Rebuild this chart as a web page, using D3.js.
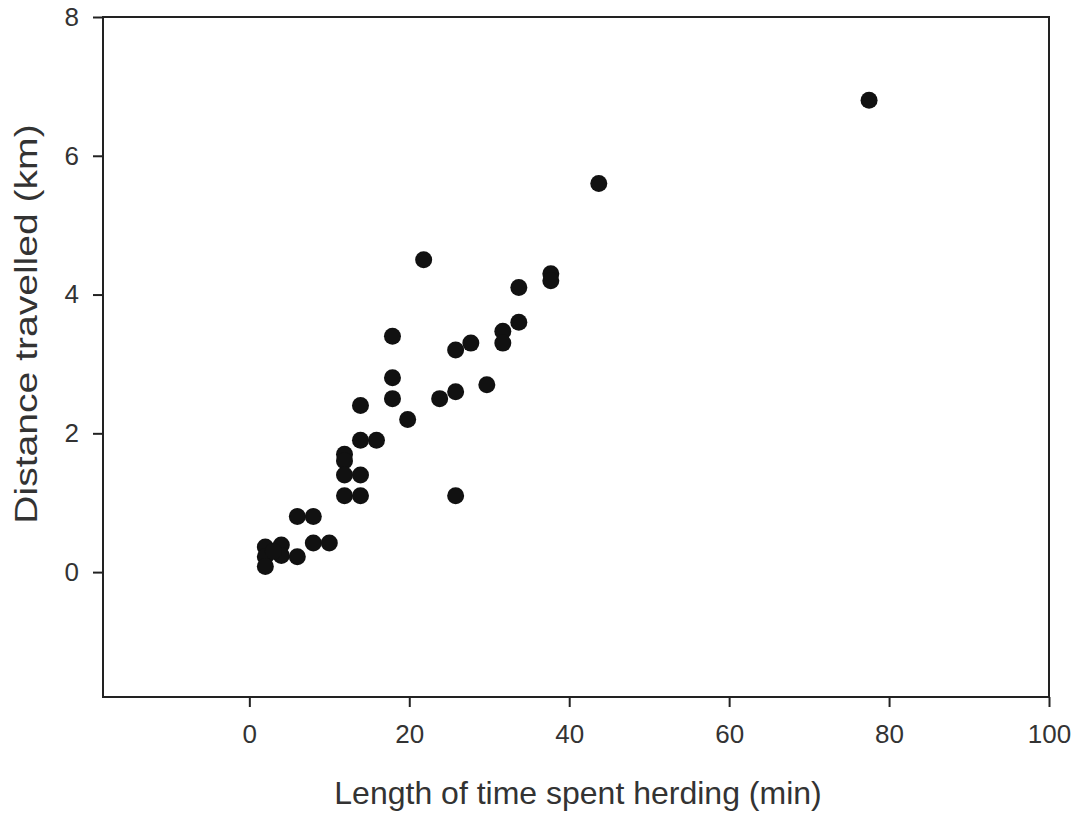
<!DOCTYPE html>
<html><head><meta charset="utf-8">
<script src="https://cdn.jsdelivr.net/npm/d3@7"></script>
<style>body{margin:0;background:#fff;} text{font-family:"Liberation Sans",Arial,sans-serif;fill:#333;}</style>
</head><body>
<svg id="c" width="1082" height="818"></svg>
<script>
const timeMin = [77.5, 43.7, 37.7, 37.7, 33.7, 33.7, 31.7, 31.7, 27.7, 25.8, 29.7, 25.8, 23.8, 25.8, 21.8, 17.9, 17.9, 17.9, 13.9, 19.8, 13.9, 15.9, 11.9, 11.9, 11.9, 13.9, 11.9, 13.9, 6, 8, 8, 10, 2, 4, 2, 4, 6, 2, 3];
const distKm  = [6.8, 5.6, 4.3, 4.2, 4.1, 3.6, 3.47, 3.3, 3.3, 3.2, 2.7, 2.6, 2.5, 1.1, 4.5, 3.4, 2.8, 2.5, 2.4, 2.2, 1.9, 1.9, 1.7, 1.6, 1.4, 1.4, 1.1, 1.1, 0.8, 0.8, 0.42, 0.42, 0.36, 0.39, 0.22, 0.24, 0.22, 0.08, 0.3];
const xTicks = [0, 20, 40, 60, 80, 100];
const yTicks = [0, 2, 4, 6, 8];
const xTitle = "Length of time spent herding (min)";
const yTitle = "Distance travelled (km)";

const svg = d3.select("#c");
const L = 103, R = 1049, T = 17, B = 697;
const x = d3.scaleLinear().domain([-18.3, 100]).range([L, R]);
const y = d3.scaleLinear().domain([-1.8, 8]).range([B, T]);

// frame
svg.append("rect").attr("x", L).attr("y", T).attr("width", R - L).attr("height", B - T)
  .attr("fill", "none").attr("stroke", "#222").attr("stroke-width", 2);

const xa = svg.append("g").attr("transform", `translate(0,${B})`)
  .call(d3.axisBottom(x).tickValues(xTicks).tickSize(10).tickPadding(18).tickFormat(d3.format("d")));
const ya = svg.append("g").attr("transform", `translate(${L},0)`)
  .call(d3.axisLeft(y).tickValues(yTicks).tickSize(10).tickPadding(14).tickFormat(d3.format("d")));
[xa, ya].forEach(a => {
  a.select(".domain").remove();
  a.selectAll(".tick line").attr("stroke", "#222").attr("stroke-width", 2);
  a.selectAll(".tick text").attr("font-size", 26).attr("fill", "#333")
    .attr("font-family", "Liberation Sans, Arial, sans-serif");
});

svg.append("g").selectAll("circle").data(timeMin.map((t, i) => [t, distKm[i]]))
  .join("circle").attr("cx", d => x(d[0])).attr("cy", d => y(d[1])).attr("r", 8.5)
  .attr("fill", "#111");

svg.append("text").attr("x", (L + R) / 2 + 2).attr("y", 804).attr("text-anchor", "middle")
  .attr("font-size", 32).text(xTitle);
svg.append("text").attr("transform", `translate(37,${324}) rotate(-90) scale(1.26,1)`).attr("text-anchor", "middle")
  .attr("font-size", 31).text(yTitle);
</script>
</body></html>
